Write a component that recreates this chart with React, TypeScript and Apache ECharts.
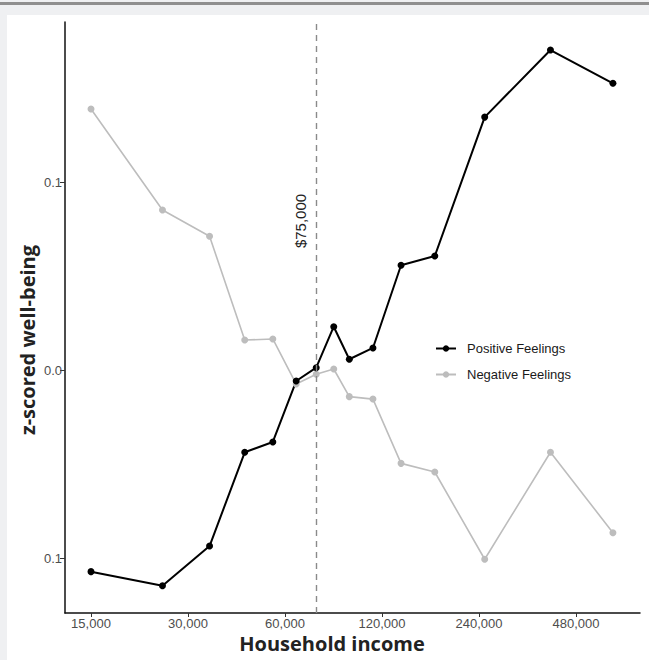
import React, { useEffect, useRef } from "react";
import * as echarts from "echarts";

const incomes = [15000, 25000, 35000, 45000, 55000, 65000, 75000, 85000, 95000, 112500, 137500, 175000, 250000, 400000, 625000];
const positiveFeelings = [-0.107, -0.1145, -0.0934, -0.0435, -0.038, -0.0056, 0.0015, 0.0233, 0.006, 0.012, 0.056, 0.0609, 0.1348, 0.1705, 0.1528];
const negativeFeelings = [0.1391, 0.0854, 0.0714, 0.0162, 0.0168, -0.0072, -0.002, 0.0008, -0.0139, -0.0152, -0.0494, -0.054, -0.1004, -0.0435, -0.0863];
const xTickIncomes = [15000, 30000, 60000, 120000, 240000, 480000];
const yTickValues = [-0.1, 0, 0.1];
const thresholdIncome = 75000;
const baseIncome = 15000;

const toX = (v: number) => Math.log2(v / baseIncome);

export default function App() {
  const ref = useRef<HTMLDivElement>(null);
  useEffect(() => {
    if (!ref.current) return;
    const chart = echarts.init(ref.current, null, { renderer: "svg" });
    const tickFont = "Liberation Sans, Arial, sans-serif";
    chart.setOption({
      animation: false,
      backgroundColor: "transparent",
      grid: { left: 65, right: 9, top: 22, bottom: 47, containLabel: false },
      xAxis: {
        type: "value",
        min: -0.268,
        max: 5.66,
        splitLine: { show: false },
        axisLine: { show: true, onZero: false, lineStyle: { color: "#111", width: 1.5 } },
        axisTick: { show: true, length: 4, customValues: xTickIncomes.map(toX), lineStyle: { color: "#333" } },
        axisLabel: {
          customValues: xTickIncomes.map(toX),
          margin: 4,
          color: "#4d4d4d",
          fontSize: 13,
          fontFamily: tickFont,
          formatter: (v: number) => Math.round(baseIncome * Math.pow(2, v)).toLocaleString("en-US"),
        },
      },
      yAxis: {
        type: "value",
        min: -0.129,
        max: 0.1854,
        splitLine: { show: false },
        axisLine: { show: true, onZero: false, lineStyle: { color: "#111", width: 1.5 } },
        axisTick: { show: true, length: 5, customValues: yTickValues, lineStyle: { color: "#333" } },
        axisLabel: {
          customValues: yTickValues,
          margin: 3,
          color: "#4d4d4d",
          fontSize: 13,
          fontFamily: tickFont,
          formatter: (v: number) => Math.abs(v).toFixed(1),
        },
      },
      legend: {
        orient: "vertical",
        left: 430,
        top: 337,
        itemWidth: 20,
        itemHeight: 8,
        itemGap: 13,
        textStyle: { fontSize: 13, color: "#1a1a1a", fontFamily: tickFont, padding: [0, 0, 0, 6] },
        data: ["Positive Feelings", "Negative Feelings"],
      },
      series: [
        {
          name: "Negative Feelings",
          type: "line",
          data: incomes.map((v, i) => [toX(v), negativeFeelings[i]]),
          symbol: "circle",
          symbolSize: 7,
          lineStyle: { color: "#bdbdbd", width: 1.6 },
          itemStyle: { color: "#bdbdbd" },
          markLine: {
            silent: true,
            symbol: "none",
            label: { show: false },
            lineStyle: { color: "#8a8a8a", width: 1.4, type: [6, 5] },
            data: [{ xAxis: toX(thresholdIncome) }],
          },
        },
        {
          name: "Positive Feelings",
          type: "line",
          data: incomes.map((v, i) => [toX(v), positiveFeelings[i]]),
          symbol: "circle",
          symbolSize: 7,
          lineStyle: { color: "#000", width: 2 },
          itemStyle: { color: "#000" },
        },
      ],
      graphic: [
        {
          type: "text",
          x: 300,
          y: 221,
          rotation: Math.PI / 2,
          style: {
            text: "$" + thresholdIncome.toLocaleString("en-US"),
            font: "15px Liberation Sans, Arial, sans-serif",
            fill: "#222",
            align: "center",
            verticalAlign: "middle",
          },
        },
        {
          type: "text",
          x: 27,
          y: 340,
          rotation: Math.PI / 2,
          style: {
            text: "z-scored well-being",
            font: "bold 20px 'Open Sans', sans-serif",
            fill: "#222",
            align: "center",
            verticalAlign: "middle",
          },
        },
        {
          type: "text",
          x: 332,
          y: 643,
          style: {
            text: "Household income",
            font: "bold 20px 'Open Sans', sans-serif",
            fill: "#222",
            align: "center",
            verticalAlign: "middle",
          },
        },
      ],
    });
    return () => chart.dispose();
  }, []);

  return (
    <div style={{ position: "absolute", left: 0, top: 0, width: 649, height: 660, background: "#eff0f2", overflow: "hidden" }}>
      <div style={{ position: "absolute", left: 0, top: 2, width: 649, height: 3, background: "#8f8f8f" }} />
      <div style={{ position: "absolute", left: 7, top: 15, width: 642, height: 645, background: "#ffffff" }} />
      <div ref={ref} style={{ position: "absolute", left: 0, top: 0, width: 649, height: 660 }} />
    </div>
  );
}
